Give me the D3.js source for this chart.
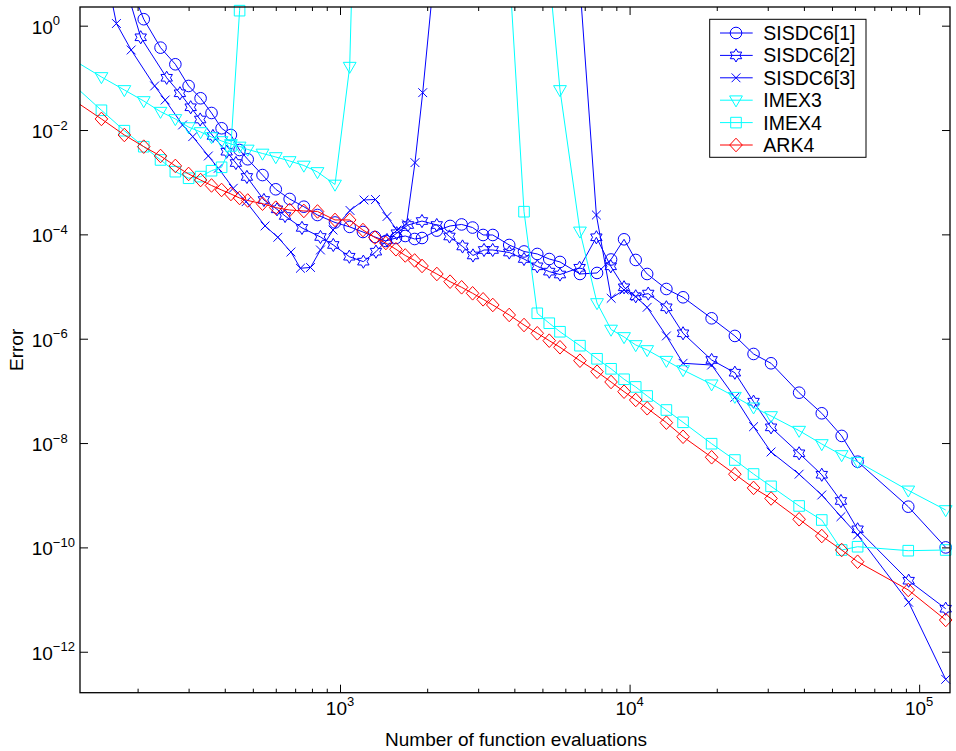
<!DOCTYPE html>
<html>
<head>
<meta charset="utf-8">
<script src="https://cdn.jsdelivr.net/npm/d3@7"></script>
<style>
  body { margin: 0; background: #fff; }
  svg { display: block; }
  text { font-family: "Liberation Sans", Arial, Helvetica, sans-serif; fill: #000; }
</style>
</head>
<body>
<svg id="chart" width="956" height="751"></svg>
<script>
// Work–precision data: number of function evaluations vs. error, per method.
const evalsSISDC1 = [180,210,240,270,300,330,360,390,420,450,480,540,600,670,750,836,961,1080,1200,1320,1440,1560,1680,1810,1920,2160,2400,2630,2870,3120,3370,3840,4320,4800,5280,5750,6740,7720,8630,9570,10500,11500,13400,15300,19200,23100,26800,30800,38500,46100,54000,61300,91700,123500];
const errSISDC1 = [11,1.33,0.379,0.182,0.0699,0.0406,0.0212,0.0108,8.03e-3,4.14e-3,2.75e-3,1.37e-3,7.31e-4,4.77e-4,3.39e-4,2.35e-4,1.69e-4,1.39e-4,1.11e-4,8.91e-5,7.47e-5,8.52e-5,9.31e-5,8.15e-5,8.52e-5,1.18e-4,1.45e-4,1.55e-4,1.35e-4,9.73e-5,9.73e-5,6.26e-5,4.70e-5,4.21e-5,3.37e-5,2.96e-5,1.74e-5,1.82e-5,3.30e-5,8.04e-5,3.23e-5,1.74e-5,8.97e-6,6.22e-6,2.46e-6,1.13e-6,5.10e-7,3.38e-7,9.23e-8,3.72e-8,1.37e-8,4.39e-9,6.03e-10,1.00e-10];

const evalsSISDC2 = [170,205,252,280,305,329,364,406,437,477,546,606,646,739,856,948,1077,1204,1331,1453,1570,1717,1919,2158,2388,2649,2879,3143,3368,3842,4320,4800,5280,5750,6720,7680,8610,9570,10500,11600,13400,15300,19200,23100,26800,30800,38500,46100,53700,61300,92000,123500];
const errSISDC2 = [20,0.599,0.1003,0.0506,0.0273,0.0159,7.69e-3,3.84e-3,2.33e-3,1.26e-3,4.56e-4,3.02e-4,2.25e-4,1.33e-4,8.91e-5,6.26e-5,3.73e-5,3.00e-5,4.66e-5,7.80e-5,1.05e-4,1.51e-4,1.80e-4,1.51e-4,9.11e-5,5.86e-5,3.94e-5,5.02e-5,5.02e-5,4.49e-5,3.37e-5,2.44e-5,1.93e-5,1.70e-5,2.29e-5,8.79e-5,2.44e-5,9.67e-6,6.50e-6,7.33e-6,4.00e-6,1.27e-6,3.91e-7,2.23e-7,6.21e-8,2.00e-8,6.36e-9,2.47e-9,7.75e-10,2.22e-10,2.30e-11,6.68e-12];

const evalsSISDC3 = [154,169,190,229,249,286,310,351,380,428,474,551,610,677,730,791,856,946,1083,1210,1326,1453,1573,1697,1815,1930,2158,6240,7680,8640,9570,10500,11500,13400,15300,19200,23100,26800,30800,38500,46100,53700,61300,92000,123500];
const errSISDC3 = [13.9,1.10,0.342,0.0699,0.0376,0.0125,7.46e-3,3.18e-3,1.85e-3,7.64e-4,4.23e-4,1.45e-4,8.79e-5,4.59e-5,2.24e-5,2.32e-5,5.02e-5,1.21e-4,2.87e-4,4.56e-4,4.66e-4,2.20e-4,1.21e-4,1.58e-4,2.37e-3,0.0520,31.4,2.3e3,2.35e-4,5.95e-6,8.59e-6,6.39e-6,4.00e-6,1.13e-6,3.38e-7,3.13e-7,7.54e-8,2.06e-8,6.74e-9,2.53e-9,1.01e-9,3.88e-10,1.73e-10,8.87e-12,2.96e-13];

const evalsIMEX3 = [120,150,180,210,240,270,300,330,360,390,420,450,480,540,600,670,750,836,961,1080,1200,5280,5750,6740,7720,8630,9570,10500,11500,13400,15300,19200,23100,26800,30800,38500,46100,54000,61300,91700,123500];
const errIMEX3 = [0.22,0.104,0.0586,0.0360,0.0225,0.0163,0.0114,9.17e-3,7.35e-3,6.17e-3,5.40e-3,4.84e-3,4.24e-3,3.55e-3,3.04e-3,2.55e-3,2.09e-3,1.57e-3,9.04e-4,0.164,4e8,9.7,0.0586,1.14e-4,4.84e-6,1.50e-6,1.08e-6,7.58e-7,6.08e-7,3.79e-7,2.51e-7,1.34e-7,7.74e-8,4.85e-8,3.30e-8,1.73e-8,9.59e-9,5.90e-9,4.39e-9,1.24e-9,5.21e-10];

const evalsIMEX4 = [120,150,180,210,240,270,300,330,360,390,420,450,480,3840,4320,4800,5280,5750,6740,7720,8630,9570,10500,11500,13400,15300,19200,23100,26800,30800,38500,46100,54000,61300,91700,123500];
const errIMEX4 = [0.0736,0.0239,9.71e-3,4.79e-3,2.67e-3,1.59e-3,1.19e-3,1.28e-3,1.66e-3,1.93e-3,4.94e-3,1.94,1.6e3,13.5,2.72e-4,3.07e-6,1.98e-6,1.36e-6,7.35e-7,4.12e-7,2.65e-7,1.67e-7,1.19e-7,7.98e-8,4.30e-8,2.50e-8,9.72e-9,4.73e-9,2.55e-9,1.48e-9,6.22e-10,3.35e-10,8.91e-11,1.03e-10,8.65e-11,8.91e-11];

const evalsARK4 = [120,150,180,210,240,270,300,330,360,390,420,450,480,540,600,670,750,836,961,1080,1200,1320,1440,1560,1680,1810,1920,2160,2400,2630,2870,3120,3370,3840,4320,4800,5280,5750,6740,7720,8630,9570,10500,11500,13400,15300,19200,23100,26800,30800,38500,46100,54000,61300,91700,123500];
const errARK4 = [0.0376,1.63e-2,8.03e-3,4.80e-3,3.18e-3,2.05e-3,1.44e-3,1.10e-3,8.65e-4,7.09e-4,5.94e-4,4.98e-4,4.46e-4,3.87e-4,3.25e-4,2.93e-4,2.81e-4,2.75e-4,1.89e-4,1.89e-4,1.21e-4,8.71e-5,6.83e-5,5.18e-5,3.94e-5,3.16e-5,2.48e-5,1.74e-5,1.24e-5,9.67e-6,7.42e-6,5.69e-6,4.43e-6,2.85e-6,1.83e-6,1.27e-6,9.17e-7,6.85e-7,3.79e-7,2.33e-7,1.48e-7,9.65e-8,6.69e-8,4.64e-8,2.46e-8,1.32e-8,5.34e-9,2.53e-9,1.38e-9,8.66e-10,3.46e-10,1.65e-10,8.91e-11,5.31e-11,1.53e-11,4.06e-12];

const seriesNames = ["SISDC6[1]","SISDC6[2]","SISDC6[3]","IMEX3","IMEX4","ARK4"];
const xTickExponents = [3, 4, 5];
const yTickExponents = [0, -2, -4, -6, -8, -10, -12];
const xAxisTitle = "Number of function evaluations";
const yAxisTitle = "Error";

// Axis limits
const xLimits = [126.5, 127800];
const yLimits = [1.64e-13, 2.28];

const series = [
  { name: seriesNames[0], evals: evalsSISDC1, err: errSISDC1, color: "#0000ff", marker: "o" },
  { name: seriesNames[1], evals: evalsSISDC2, err: errSISDC2, color: "#0000ff", marker: "h" },
  { name: seriesNames[2], evals: evalsSISDC3, err: errSISDC3, color: "#0000ff", marker: "x" },
  { name: seriesNames[3], evals: evalsIMEX3, err: errIMEX3, color: "#00ffff", marker: "v" },
  { name: seriesNames[4], evals: evalsIMEX4, err: errIMEX4, color: "#00ffff", marker: "s" },
  { name: seriesNames[5], evals: evalsARK4, err: errARK4, color: "#ff0000", marker: "d" }
];

const box = { left: 80, right: 950, top: 7, bottom: 692.7 };
const svg = d3.select("#chart");

const x = d3.scaleLog().domain(xLimits).range([box.left, box.right]);
const y = d3.scaleLog().domain(yLimits).range([box.bottom, box.top]);

svg.append("defs").append("clipPath").attr("id", "plotArea")
  .append("rect")
  .attr("x", box.left).attr("y", box.top)
  .attr("width", box.right - box.left).attr("height", box.bottom - box.top);

// Marker outlines, centred on the data point
function markerPath(kind) {
  switch (kind) {
    case "o": { const r = 5.8; return `M${r},0A${r},${r} 0 1,1 ${-r},0A${r},${r} 0 1,1 ${r},0Z`; }
    case "d": return "M0,-6.8L6.3,0L0,6.8L-6.3,0Z";
    case "s": return "M-5.3,-5.3H5.3V5.3H-5.3Z";
    case "v": return "M-6.4,-4.3L6.4,-4.3L0,6.7Z";
    case "x": return "M-4.4,-4.4L4.4,4.4M-4.4,4.4L4.4,-4.4";
    case "h": {
      const R = 6.6, r = R / Math.sqrt(3), pts = [];
      for (let k = 0; k < 12; k++) {
        const a = (-90 + k * 30) * Math.PI / 180;
        const rad = k % 2 === 0 ? R : r;
        pts.push([rad * Math.cos(a), rad * Math.sin(a)]);
      }
      return "M" + pts.map(p => p[0].toFixed(2) + "," + p[1].toFixed(2)).join("L") + "Z";
    }
  }
  return "";
}

// Ticks (pointing inward on all four sides)
const xMajor = xTickExponents.map(e => Math.pow(10, e));
const xMinor = [];
[2, 3, 4].forEach(e => d3.range(2, 10).forEach(m => {
  const v = m * Math.pow(10, e);
  if (v > xLimits[0] && v < xLimits[1]) xMinor.push(v);
}));
const yMajor = yTickExponents.map(e => Math.pow(10, e));

function clean(g) { g.select(".domain").remove(); g.selectAll("line").attr("stroke", "#000").attr("stroke-width", 1); }

svg.append("g").attr("transform", `translate(0,${box.bottom})`)
  .call(d3.axisBottom(x).tickValues(xMajor).tickSize(-8).tickFormat("")).call(clean);
svg.append("g").attr("transform", `translate(0,${box.bottom})`)
  .call(d3.axisBottom(x).tickValues(xMinor).tickSize(-4).tickFormat("")).call(clean);
svg.append("g").attr("transform", `translate(0,${box.top})`)
  .call(d3.axisTop(x).tickValues(xMajor).tickSize(-8).tickFormat("")).call(clean);
svg.append("g").attr("transform", `translate(0,${box.top})`)
  .call(d3.axisTop(x).tickValues(xMinor).tickSize(-4).tickFormat("")).call(clean);
svg.append("g").attr("transform", `translate(${box.left},0)`)
  .call(d3.axisLeft(y).tickValues(yMajor).tickSize(-8).tickFormat("")).call(clean);
svg.append("g").attr("transform", `translate(${box.right},0)`)
  .call(d3.axisRight(y).tickValues(yMajor).tickSize(-8).tickFormat("")).call(clean);

// Tick labels as 10 with a raised exponent
xTickExponents.forEach(e => {
  const t = svg.append("text")
    .attr("x", x(Math.pow(10, e))).attr("y", 715)
    .attr("text-anchor", "middle").attr("font-size", 19);
  t.append("tspan").text("10");
  t.append("tspan").attr("dy", -9).attr("font-size", 13).text(String(e));
});
yTickExponents.forEach(e => {
  const t = svg.append("text")
    .attr("x", 31.7).attr("y", y(Math.pow(10, e)) + 8)
    .attr("font-size", 19);
  t.append("tspan").text("10");
  t.append("tspan").attr("dy", -8.5).attr("font-size", 13)
    .text(e < 0 ? "\u2212" + Math.abs(e) : String(e));
});

svg.append("text").attr("x", (box.left + box.right) / 2 + 1).attr("y", 746)
  .attr("text-anchor", "middle").attr("font-size", 19).text(xAxisTitle);
svg.append("text")
  .attr("transform", `translate(23,${(box.top + box.bottom) / 2}) rotate(-90)`)
  .attr("text-anchor", "middle").attr("font-size", 19).text(yAxisTitle);

// Curves
const plot = svg.append("g");
const line = d3.line().x(d => x(d[0])).y(d => y(d[1]));
const inside = d => d[0] >= xLimits[0] && d[0] <= xLimits[1] && d[1] >= yLimits[0] && d[1] <= yLimits[1];

series.forEach(s => {
  const pts = d3.zip(s.evals, s.err);
  const g = plot.append("g");
  g.append("path").datum(pts)
    .attr("clip-path", "url(#plotArea)")
    .attr("fill", "none").attr("stroke", s.color).attr("stroke-width", 1)
    .attr("d", line);
  g.selectAll("path.mk").data(pts.filter(inside)).join("path")
    .attr("class", "mk")
    .attr("transform", d => `translate(${x(d[0])},${y(d[1])})`)
    .attr("d", markerPath(s.marker))
    .attr("fill", "none").attr("stroke", s.color).attr("stroke-width", 1);
});

// Frame
svg.append("rect")
  .attr("x", box.left).attr("y", box.top)
  .attr("width", box.right - box.left).attr("height", box.bottom - box.top)
  .attr("fill", "none").attr("stroke", "#000").attr("stroke-width", 1.3);

// Legend
const lg = svg.append("g");
lg.append("rect").attr("x", 709.7).attr("y", 19.3).attr("width", 156.3).attr("height", 138)
  .attr("fill", "#fff").attr("stroke", "#000").attr("stroke-width", 1);
series.forEach((s, i) => {
  const cy = 33 + i * 22.4;
  lg.append("line").attr("x1", 720).attr("x2", 752.7).attr("y1", cy).attr("y2", cy)
    .attr("stroke", s.color).attr("stroke-width", 1);
  lg.append("path").attr("transform", `translate(736,${cy})`).attr("d", markerPath(s.marker))
    .attr("fill", "none").attr("stroke", s.color).attr("stroke-width", 1);
  lg.append("text").attr("x", 763.3).attr("y", cy + 7).attr("font-size", 19.5).text(s.name);
});
</script>
</body>
</html>
